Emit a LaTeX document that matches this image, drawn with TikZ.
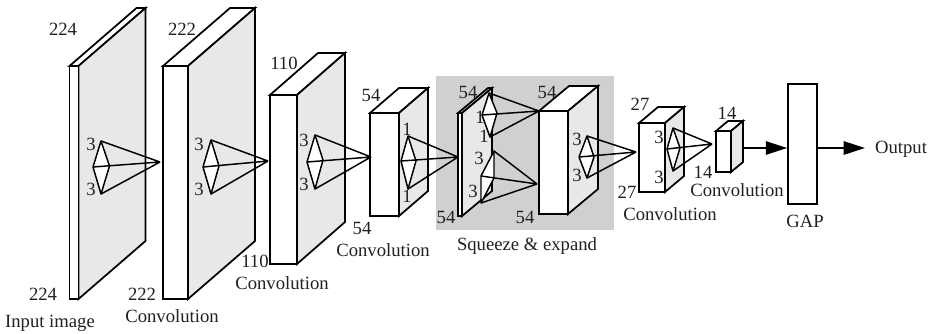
\documentclass[tikz,border=0pt]{standalone}
\usepackage{fontspec}
\setmainfont{Liberation Serif}
\usetikzlibrary{arrows.meta}
\definecolor{facegrey}{HTML}{E8E8E8}
\definecolor{panelgrey}{HTML}{CFD1D0}
\definecolor{txt}{HTML}{231F20}
\tikzset{
  edge/.style={draw=black,line width=1.3pt,line join=miter},
  pyredge/.style={draw=black,line width=1.1pt,line join=round},
  lbl/.style={font=\fontsize{14}{14}\selectfont,text=txt,inner sep=0pt,anchor=center},
  flow/.style={draw=black,line width=1.3pt,-{Triangle[length=16pt,width=10pt]}},
}
% #1 front x0, #2 front x1, #3 y top, #4 y bottom, #5 dx, #6 dy
\newcommand{\slab}[6]{%
  \path[edge,fill=white] (#1,#3) -- (#1+#5,#3-#6) -- (#2+#5,#3-#6) -- (#2,#3) -- cycle;
  \path[edge,fill=facegrey] (#2,#3) -- (#2+#5,#3-#6) -- (#2+#5,#4-#6) -- (#2,#4) -- cycle;
  \path[edge,fill=white] (#1,#3) rectangle (#2,#4);
}
% pyramid: top (x,y), left (x,y), bottom (x,y), right (x,y); tip named coordinate
\newcommand{\pyr}[9]{%
  \path[pyredge,fill=white] (#1,#2) -- (#3,#4) -- (#5,#6) -- (#7,#8) -- cycle;
  \path[pyredge] (#1,#2) -- (#9) (#3,#4) -- (#9) (#5,#6) -- (#9);
}
\begin{document}
\begin{tikzpicture}[x=0.75pt,y=-0.75pt]
\useasboundingbox (0,0) rectangle (934,333);
\fill[panelgrey] (436,76) rectangle (614,230);
% blocks
\slab{69.5}{78.5}{66}{299}{67}{58}
\slab{163}{188}{66}{299}{67}{58}
\slab{270}{297}{95}{264}{48}{42}
\slab{370}{399}{113}{216}{29}{25}
\slab{458}{462}{113}{216}{30}{25}
\slab{539}{568}{111}{214}{30}{25}
\slab{639}{665}{123}{192}{19}{16}
\slab{716}{731}{131}{172}{12}{10}
% pyramid tips
\coordinate (t1) at (160,162);
\coordinate (t2) at (268,161);
\coordinate (t3) at (371,157);
\coordinate (t4) at (458,157);
\coordinate (t5) at (539,111);
\coordinate (t6) at (537,184);
\coordinate (t7) at (636,152);
\coordinate (t8) at (712,144);
\pyr{101}{141}{93}{167}{101}{194}{109.5}{166}{t1}
\pyr{211}{140}{203}{167}{211}{194}{219}{166}{t2}
\pyr{315}{135}{307}{162}{315}{189}{323}{160}{t3}
\pyr{408}{136}{401}{161}{408}{189}{416}{161}{t4}
\pyr{489}{93}{482}{115}{490}{137}{497}{113}{t5}
\pyr{494}{151}{481}{176}{481}{203}{494}{178}{t6}
\pyr{587}{136}{579}{157}{587}{178}{594}{157}{t7}
\pyr{673}{128}{667}{149}{673}{171}{680}{148}{t8}
% GAP and arrows
\node[edge,fill=white,inner sep=0pt,minimum width=21.75pt,minimum height=90pt] (gap) at (802.5,144) {};
\coordinate (b8) at (743,148);
\coordinate (outend) at (865,148);
\draw[flow] (b8) -- (gap.west |- b8);
\draw[flow] (gap.east |- outend) -- (outend);
% labels
\node[lbl] (l01) at (63,29) {224};
\node[lbl] (l02) at (43,294) {224};
\node[lbl] (l03) at (50,323) {Input image};
\node[lbl] (l04) at (182,29) {222};
\node[lbl] (l05) at (142,294) {222};
\node[lbl] (l06) at (172,316) {Convolution};
\node[lbl] (l07) at (284,63) {110};
\node[lbl] (l08) at (255,261) {110};
\node[lbl] (l09) at (282,283) {Convolution};
\node[lbl] (l10) at (91,144) {3};
\node[lbl] (l11) at (91,189) {3};
\node[lbl] (l12) at (199,144) {3};
\node[lbl] (l13) at (199,189) {3};
\node[lbl] (l14) at (304,140) {3};
\node[lbl] (l15) at (304,184) {3};
\node[lbl] (l16) at (371,95) {54};
\node[lbl] (l17) at (362,228) {54};
\node[lbl] (l18) at (383,250) {Convolution};
\node[lbl] (l19) at (407,129) {1};
\node[lbl] (l20) at (407,196) {1};
\node[lbl] (l21) at (468,92) {54};
\node[lbl] (l22) at (480,117) {1};
\node[lbl] (l23) at (484,136) {1};
\node[lbl] (l24) at (479,158) {3};
\node[lbl] (l25) at (473,191) {3};
\node[lbl] (l26) at (446,217) {54};
\node[lbl] (l27) at (547,92) {54};
\node[lbl] (l28) at (525,217) {54};
\node[lbl] (l29) at (527,246) {Squeeze \& expand};
\node[lbl] (l30) at (577,139) {3};
\node[lbl] (l31) at (577,175) {3};
\node[lbl] (l32) at (640,104) {27};
\node[lbl] (l33) at (627,192) {27};
\node[lbl] (l34) at (659,137) {3};
\node[lbl] (l35) at (659,177) {3};
\node[lbl] (l36) at (727,113) {14};
\node[lbl] (l37) at (703,172) {14};
\node[lbl] (l38) at (737,190) {Convolution};
\node[lbl] (l39) at (670,214) {Convolution};
\node[lbl] (l40) at (805,221) {GAP};
\node[lbl] (l41) at (901,149) {Output};
\end{tikzpicture}
\end{document}
